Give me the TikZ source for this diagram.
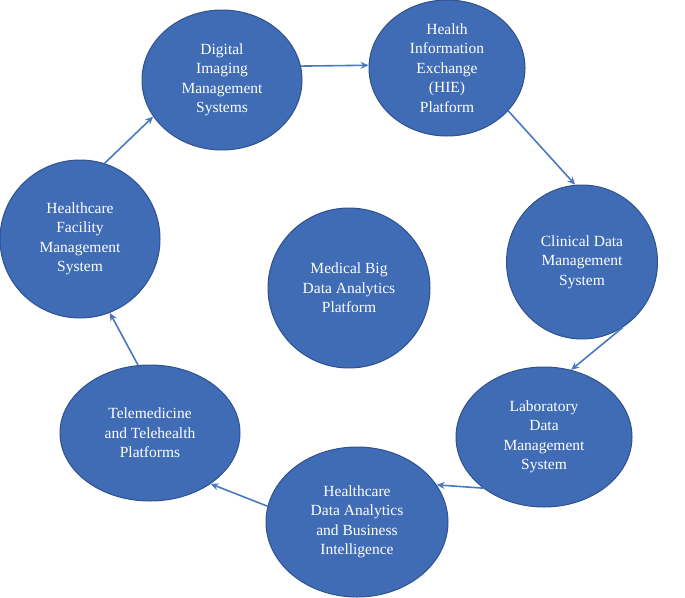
\documentclass[tikz,border=0pt]{standalone}
\usepackage{fontspec}
\setmainfont{Liberation Serif}
\usetikzlibrary{arrows.meta}
\usetikzlibrary{shapes.geometric}
\definecolor{sysfill}{HTML}{3F6CB4}
\definecolor{sysdraw}{HTML}{2F528F}
\definecolor{flow}{HTML}{4A78C2}
\tikzset{>={Stealth[length=8pt,width=7pt]}}
\tikzset{sys/.style={ellipse,fill=sysfill,draw=sysdraw,line width=1pt,text=white,align=center,font=\fontsize{15.5}{19.5}\selectfont,inner sep=0pt}}
\tikzset{link/.style={->,flow,line width=1.6pt}}

\begin{document}
\begin{tikzpicture}[x=1pt,y=-1pt]
\useasboundingbox (0,0) rectangle (685,597);

% systems around the platform
\node[sys,minimum width=160pt,minimum height=140pt] (dims) at (222,80) {Digital\\Imaging\\Management\\Systems};
\node[sys,minimum width=156pt,minimum height=136pt] (hie) at (447,68) {Health\\Information\\Exchange\\(HIE)\\Platform};
\node[sys,minimum width=151pt,minimum height=154pt] (cdms) at (582,262) {Clinical Data\\Management\\System};
\node[sys,minimum width=176pt,minimum height=140pt] (ldms) at (544,437) {Laboratory\\Data\\Management\\System};
\node[sys,minimum width=182pt,minimum height=150pt] (hda) at (357,522) {Healthcare\\Data Analytics\\and Business\\Intelligence};
\node[sys,minimum width=180pt,minimum height=136pt] (tele) at (150,433) {Telemedicine\\and Telehealth\\Platforms};
\node[sys,minimum width=160pt,minimum height=158pt] (hfms) at (80,239) {Healthcare\\Facility\\Management\\System};

% centre
\node[sys,minimum width=162pt,minimum height=160pt] (mbda) at (349,288) {Medical Big\\Data Analytics\\Platform};

\draw[link] (dims.10) -- (hie.178);
\draw[link] (hie.-35) -- (cdms.95);
\draw[link] (cdms.-58) -- (ldms.68);
\draw[link] (ldms.-140) -- (hda.25);
\draw[link] (hda.170) -- (tele.-40);
\draw[link] (tele.100) -- (hfms.-68);
\draw[link] (hfms.72) -- (dims.-152);
\end{tikzpicture}
\end{document}
